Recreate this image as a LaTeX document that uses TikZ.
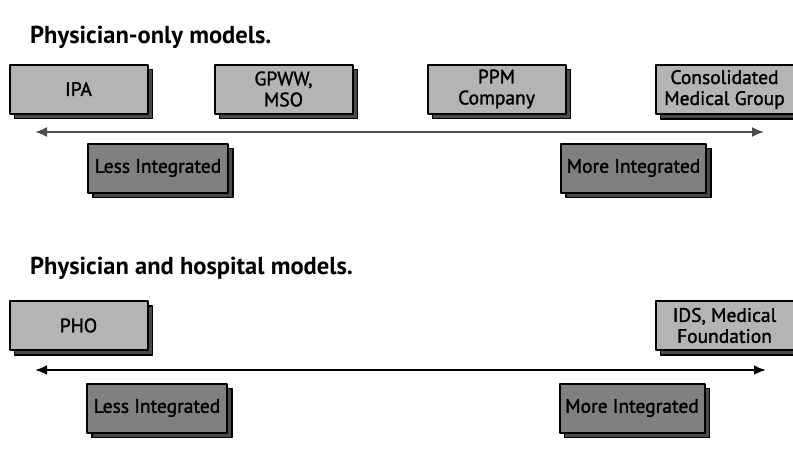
\documentclass[tikz,border=0pt]{standalone}
\usepackage{fontspec}
\setmainfont{PT Sans}
\newfontfamily\boxfont[FakeBold=1.5]{PT Sans}
\usetikzlibrary{arrows.meta}
\definecolor{boxlight}{HTML}{B4B4B4}
\definecolor{boxdark}{HTML}{808080}
\definecolor{boxshade}{HTML}{4A4A4A}
\tikzset{
	model/.style={draw=black, line width=2pt, fill=boxlight, minimum width=138pt, minimum height=49pt,
		align=center, inner sep=0pt, font=\boxfont\fontsize{19.5}{21}\selectfont,
		preaction={draw=black, fill=boxshade, line width=1.2pt, transform canvas={xshift=5pt, yshift=-5pt}}},
	degree/.style={model, fill=boxdark, minimum width=140pt},
	heading/.style={anchor=base west, inner sep=0pt, font=\fontsize{24.5}{27}\selectfont\bfseries},
}
\begin{document}
\begin{tikzpicture}[x=1pt, y=-1pt, line join=round, >={Latex[length=12pt,width=10pt]}]
				\useasboundingbox (0,0) rectangle (793,453);
				\path
				(35,132) coordinate (L1)
				(764,132) coordinate (R1)
				(35,370) coordinate (L2)
				(766,370) coordinate (R2)
				;
				% physician-only models
				\node (t1) at (30,43) [heading] {Physician-only models.};
				\node (ipa) at (78.5,89) [model] {IPA};
				\node (gpww) at (283.5,89) [model] {GPWW,\\MSO};
				\node (ppm) at (496.5,89) [model] {PPM\\Company};
				\node (cmg) at (724.5,89.5) [model] {Consolidated\\Medical Group};
				\draw[<->, line width=2pt, draw=black!70] (L1) -- (R1);
				\node (less1) at (158,168) [degree] {Less Integrated};
				\node (more1) at (633.5,168) [degree, minimum width=145pt] {More Integrated};
				
				% physician and hospital models
				\node (t2) at (30,274) [heading] {Physician and hospital models.};
				\node (pho) at (78.5,325.5) [model] {PHO};
				\node (ids) at (724.5,325.5) [model] {IDS, Medical\\Foundation};
				\draw[<->, line width=2.6pt] (L2) -- (R2);
				\node (less2) at (157,408) [degree] {Less Integrated};
				\node (more2) at (632,408) [degree, minimum width=145pt] {More Integrated};
		\end{tikzpicture}
\end{document}
